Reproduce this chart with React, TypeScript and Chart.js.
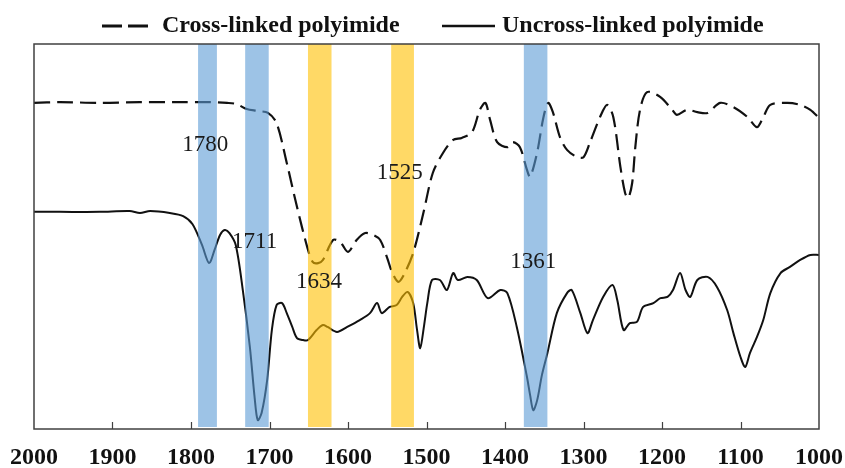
import React, { useEffect, useRef } from "react";
import { Chart, registerables } from "chart.js";

Chart.register(...registerables);

// Series names
const seriesNames = ["Cross-linked polyimide", "Uncross-linked polyimide"];

// Cross-linked polyimide (dashed) — wavenumber (cm-1) and transmittance (a.u.)
const crossWn = [
  2000, 1967, 1916, 1865, 1814, 1776, 1754, 1742, 1729, 1715, 1702, 1691, 1678, 1665, 1652, 1645,
  1638, 1632, 1619, 1610, 1600, 1589, 1578, 1568, 1559, 1550, 1544, 1536, 1529, 1517, 1504, 1492,
  1479, 1466, 1455, 1442, 1432, 1425, 1419, 1410, 1397, 1390, 1381, 1372, 1368, 1359, 1351, 1345,
  1339, 1330, 1321, 1308, 1300, 1292, 1279, 1270, 1262, 1253, 1247, 1243, 1238, 1234, 1228, 1219,
  1202, 1187, 1181, 1168, 1155, 1142, 1126, 1109, 1091, 1079, 1071, 1062, 1040, 1024, 1011, 1000,
];
const crossVal = [
  84.7, 84.9, 84.7, 84.9, 84.9, 84.9, 84.7, 84.4, 83.1, 82.6, 82.1, 79.5, 69.1, 57.7, 47.3, 43.4,
  43.1, 43.9, 49.1, 48.6, 46.0, 49.1, 50.9, 50.4, 49.1, 44.4, 40.8, 38.2, 40.0, 45.7, 56.1, 66.5,
  71.7, 75.1, 75.6, 77.1, 82.9, 84.7, 80.3, 74.5, 73.2, 74.5, 73.2, 67.3, 65.5, 71.9, 81.0, 84.7,
  82.3, 75.8, 72.5, 70.6, 70.6, 74.3, 81.0, 84.2, 81.0, 68.1, 61.3, 60.0, 63.9, 73.2, 82.9, 87.5,
  86.2, 82.9, 81.6, 82.9, 82.3, 82.1, 84.7, 83.6, 81.0, 78.4, 81.0, 84.2, 84.7, 84.2, 82.9, 80.8,
];

// Uncross-linked polyimide (solid)
const uncrossWn = [
  2000, 1967, 1916, 1878, 1865, 1852, 1827, 1810, 1798, 1786, 1777, 1770, 1763, 1757, 1751, 1743,
  1734, 1725, 1719, 1715, 1710, 1703, 1697, 1691, 1684, 1678, 1671, 1665, 1657, 1651, 1640, 1632,
  1626, 1614, 1601, 1585, 1572, 1563, 1557, 1547, 1538, 1531, 1524, 1517, 1512, 1508, 1503, 1499,
  1493, 1483, 1474, 1466, 1460, 1448, 1436, 1422, 1406, 1397, 1385, 1372, 1368, 1364, 1359, 1353,
  1346, 1334, 1321, 1315, 1304, 1295, 1288, 1275, 1263, 1257, 1249, 1241, 1232, 1224, 1211, 1202,
  1193, 1186, 1177, 1170, 1164, 1155, 1142, 1130, 1117, 1109, 1100, 1094, 1088, 1079, 1071, 1062,
  1049, 1037, 1024, 1011, 1000,
];
const uncrossVal = [
  56.4, 56.4, 56.4, 56.6, 56.1, 56.6, 56.1, 55.3, 53.2, 47.8, 43.1, 46.5, 50.4, 51.7, 50.9, 47.8,
  36.1, 21.3, 8.3, 2.3, 4.2, 12.7, 25.7, 32.2, 32.7, 30.1, 26.5, 23.6, 23.1, 23.1, 25.7, 27.0,
  26.5, 25.2, 26.5, 28.3, 30.1, 32.7, 30.1, 31.7, 32.2, 34.3, 35.6, 32.7, 25.7, 21.0, 27.0, 32.7,
  38.7, 38.7, 36.1, 40.5, 38.7, 39.5, 38.7, 34.0, 36.1, 35.3, 26.5, 13.5, 8.8, 4.9, 7.5, 14.0,
  19.7, 30.1, 35.3, 36.1, 30.1, 24.9, 28.3, 34.3, 37.4, 33.5, 25.7, 27.5, 27.8, 31.7, 32.7, 34.0,
  34.3, 36.1, 40.5, 36.1, 34.3, 38.7, 39.5, 36.9, 30.9, 24.9, 18.7, 16.1, 19.7, 23.9, 28.3, 35.3,
  40.5, 42.1, 43.9, 45.2, 45.2,
];

// Highlight bands (wavenumber ranges)
const blueBands = [
  [1791, 1767],
  [1731, 1701],
  [1376, 1346],
];
const yellowBands = [
  [1651, 1621],
  [1545, 1516],
];

// Peak annotations
const peakLabels = ["1780", "1711", "1634", "1525", "1361"];
const peakLabelWn = [1782, 1719, 1637, 1534, 1364];
const peakLabelVal = [73.8, 48.6, 38.2, 66.5, 43.4];

// Axis
const xMin = 1000;
const xMax = 2000;
const xStep = 100;

const overlayPlugin = {
  id: "overlay",
  afterDatasetsDraw(chart: any) {
    const { ctx, chartArea: a, scales } = chart;
    const x = scales.x;
    const y = scales.y;
    ctx.save();
    const drawBand = (b: number[], color: string) => {
      const x1 = x.getPixelForValue(b[0]);
      const x2 = x.getPixelForValue(b[1]);
      ctx.fillStyle = color;
      ctx.fillRect(Math.min(x1, x2), a.top, Math.abs(x2 - x1), a.bottom - a.top - 2);
    };
    blueBands.forEach((b) => drawBand(b, "rgba(91,155,213,0.6)"));
    yellowBands.forEach((b) => drawBand(b, "rgba(255,192,0,0.6)"));

    // peak labels
    ctx.fillStyle = "#1a1a1a";
    ctx.font = '23px "Liberation Serif"';
    ctx.textAlign = "center";
    ctx.textBaseline = "middle";
    peakLabels.forEach((t, i) => {
      ctx.fillText(t, x.getPixelForValue(peakLabelWn[i]), y.getPixelForValue(peakLabelVal[i]));
    });

    // frame
    ctx.strokeStyle = "#404040";
    ctx.lineWidth = 1.5;
    ctx.strokeRect(a.left, a.top, a.right - a.left, a.bottom - a.top);

    // inward ticks
    ctx.lineWidth = 1.2;
    ctx.beginPath();
    for (let v = xMin + xStep; v < xMax; v += xStep) {
      const px = Math.round(x.getPixelForValue(v)) + 0.5;
      ctx.moveTo(px, a.bottom);
      ctx.lineTo(px, a.bottom - 7);
    }
    ctx.stroke();

    // legend
    const ly = 26;
    ctx.strokeStyle = "#111";
    ctx.lineWidth = 3;
    ctx.setLineDash([20, 6]);
    ctx.beginPath();
    ctx.moveTo(102, ly);
    ctx.lineTo(148, ly);
    ctx.stroke();
    ctx.setLineDash([]);
    ctx.lineWidth = 2.5;
    ctx.beginPath();
    ctx.moveTo(442, ly);
    ctx.lineTo(495, ly);
    ctx.stroke();
    ctx.fillStyle = "#111";
    ctx.font = 'bold 24px "Liberation Serif"';
    ctx.textAlign = "left";
    ctx.textBaseline = "middle";
    ctx.fillText(seriesNames[0], 162, ly);
    ctx.fillText(seriesNames[1], 502, ly);
    ctx.restore();
  },
};

export default function App() {
  const ref = useRef<HTMLCanvasElement | null>(null);
  useEffect(() => {
    if (!ref.current) return;
    const crossData = crossWn.map((w, i) => ({ x: w, y: crossVal[i] }));
    const uncrossData = uncrossWn.map((w, i) => ({ x: w, y: uncrossVal[i] }));
    const chart = new Chart(ref.current, {
      type: "line",
      data: {
        datasets: [
          {
            label: seriesNames[0],
            data: crossData,
            borderColor: "#111",
            borderWidth: 2.2,
            borderDash: [16, 7],
            pointRadius: 0,
            tension: 0.3,
            fill: false,
          },
          {
            label: seriesNames[1],
            data: uncrossData,
            borderColor: "#111",
            borderWidth: 2,
            pointRadius: 0,
            tension: 0.3,
            fill: false,
          },
        ],
      },
      options: {
        animation: false,
        responsive: false,
        layout: { padding: { left: 34, right: 26, top: 44, bottom: -19 } },
        plugins: { legend: { display: false }, tooltip: { enabled: false } },
        scales: {
          x: {
            type: "linear",
            reverse: true,
            min: xMin,
            max: xMax,
            ticks: {
              stepSize: xStep,
              autoSkip: false,
              maxRotation: 0,
              padding: 2,
              color: "#111",
              font: { family: "Liberation Serif", size: 24, weight: "bold", lineHeight: "54px" },
              callback: (v: any) => String(v),
            },
            grid: { display: false, drawTicks: false },
            border: { display: false },
          },
          y: { display: false, min: 0, max: 100 },
        },
      },
      plugins: [overlayPlugin],
    });
    return () => chart.destroy();
  }, []);
  return (
    <canvas
      ref={ref}
      width={845}
      height={468}
      style={{ position: "absolute", left: 0, top: 0, display: "block" }}
    />
  );
}
